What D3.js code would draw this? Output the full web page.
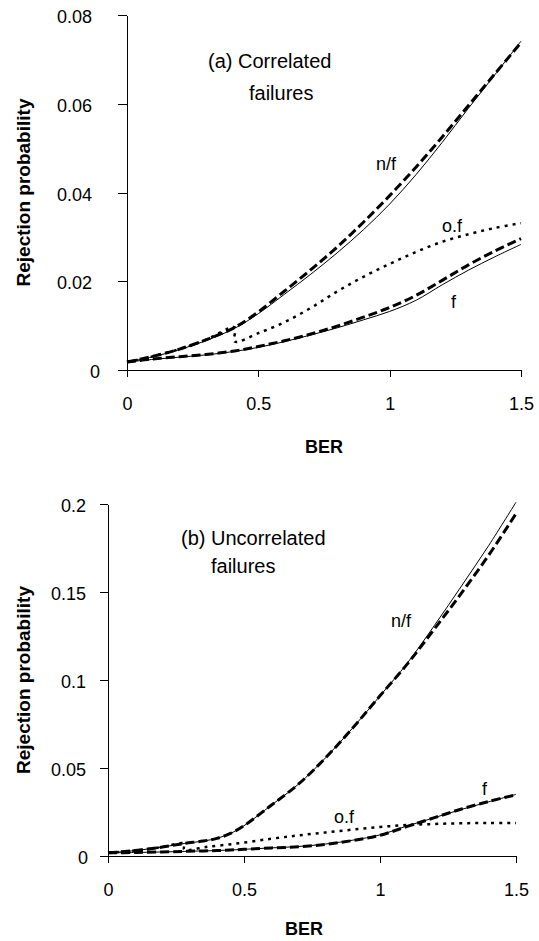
<!DOCTYPE html>
<html>
<head>
<meta charset="utf-8">
<script src="https://cdn.jsdelivr.net/npm/d3@7"></script>
<style>
  html, body { margin: 0; padding: 0; background: #fff; }
  svg { display: block; font-family: "Liberation Sans", Arial, sans-serif; }
  .axis path, .axis line { stroke: #000; stroke-width: 1; shape-rendering: crispEdges; }
  .axis text { font-size: 18px; fill: #000; }
  .ttl { font-size: 18px; font-weight: bold; }
  .ytl { font-size: 19px; font-weight: bold; }
  .note { font-size: 20px; }
  .tag { font-size: 18px; }
</style>
</head>
<body>
<svg id="chart" width="539" height="941"></svg>
<script>
// ── Data: (a) correlated failures ─────────────────────────────────────────────
const berA     = [0, 0.1, 0.2, 0.3, 0.41, 0.5, 0.6, 0.7, 0.8, 0.9, 1.0, 1.1, 1.2, 1.3, 1.4, 1.5];
const nfDashA  = [0.0018, 0.0031, 0.0047, 0.0068, 0.0096, 0.0131, 0.0178, 0.0226, 0.0277, 0.0333, 0.0393, 0.0457, 0.0525, 0.0596, 0.0667, 0.0738];
const nfSolidA = [0.0018, 0.0030, 0.0046, 0.0066, 0.0094, 0.0127, 0.0171, 0.0216, 0.0264, 0.0316, 0.0374, 0.0440, 0.0513, 0.0590, 0.0665, 0.0741];
const fDashA   = [0.0018, 0.0025, 0.0030, 0.0035, 0.0043, 0.0053, 0.0066, 0.0081, 0.0099, 0.0119, 0.0141, 0.0168, 0.0202, 0.0237, 0.0268, 0.0296];
const fSolidA  = [0.0018, 0.0024, 0.0029, 0.0034, 0.0042, 0.0051, 0.0064, 0.0079, 0.0095, 0.0113, 0.0132, 0.0157, 0.0192, 0.0225, 0.0255, 0.0283];
const ofBerA   = [0, 0.1, 0.2, 0.3, 0.41, 0.41, 0.5, 0.6, 0.7, 0.8, 0.9, 1.0, 1.1, 1.2, 1.3, 1.4, 1.5];
const ofA      = [0.0018, 0.0031, 0.0047, 0.0068, 0.0096, 0.0064, 0.0083, 0.0108, 0.0140, 0.0177, 0.0210, 0.0239, 0.0266, 0.0289, 0.0306, 0.0320, 0.0331];
const yTicksA  = [0, 0.02, 0.04, 0.06, 0.08];

// ── Data: (b) uncorrelated failures ───────────────────────────────────────────
const berB     = [0, 0.1, 0.2, 0.28, 0.35, 0.4, 0.45, 0.5, 0.6, 0.7, 0.8, 0.9, 1.0, 1.1, 1.2, 1.3, 1.4, 1.5];
const nfDashB  = [0.0018, 0.0031, 0.0051, 0.0071, 0.0085, 0.0100, 0.0128, 0.0172, 0.0288, 0.0408, 0.0558, 0.0728, 0.0910, 0.1090, 0.1290, 0.1495, 0.1710, 0.1945];
const nfSolidB = [0.0018, 0.0031, 0.0051, 0.0071, 0.0085, 0.0100, 0.0128, 0.0172, 0.0288, 0.0408, 0.0558, 0.0728, 0.0910, 0.1095, 0.1310, 0.1535, 0.1765, 0.2010];
const fDashB   = [0.0018, 0.0020, 0.0023, 0.0026, 0.0029, 0.0031, 0.0034, 0.0038, 0.0046, 0.0052, 0.0066, 0.0088, 0.0118, 0.0168, 0.0218, 0.0267, 0.0310, 0.0348];
const fSolidB  = [0.0018, 0.0020, 0.0023, 0.0026, 0.0029, 0.0031, 0.0034, 0.0038, 0.0046, 0.0054, 0.0068, 0.0090, 0.0120, 0.0171, 0.0218, 0.0265, 0.0308, 0.0350];
const ofBerB   = [0, 0.1, 0.2, 0.28, 0.28, 0.36, 0.48, 0.6, 0.7, 0.8, 0.9, 1.0, 1.1, 1.2, 1.3, 1.4, 1.5];
const ofB      = [0.0018, 0.0031, 0.0051, 0.0071, 0.0036, 0.0051, 0.0072, 0.0098, 0.0117, 0.0134, 0.0150, 0.0165, 0.0176, 0.0182, 0.0186, 0.0188, 0.0188];
const yTicksB  = [0, 0.05, 0.1, 0.15, 0.2];

const xTicks = [0, 0.5, 1, 1.5];

// ── Line styles ───────────────────────────────────────────────────────────────
const STYLE = {
  solid:  { w: 1,   dash: null },
  dashed: { w: 3,   dash: '9,4' },
  dotted: { w: 2.5, dash: '3,5' }
};

const svg = d3.select('#chart');

function drawPanel(p) {
  const x = d3.scaleLinear().domain([0, 1.5]).range([p.left, p.right]);
  const y = d3.scaleLinear().domain([0, p.yMax]).range([p.bottom, p.top]);
  const g = svg.append('g');

  // axes
  const ya = g.append('g').attr('class', 'axis')
    .attr('transform', `translate(${p.left},0)`)
    .call(d3.axisLeft(y).tickValues(p.yTicks).tickSize(p.yTick).tickSizeOuter(0)
      .tickPadding(p.yPad).tickFormat(d => String(d)));
  ya.selectAll('text').attr('dy', '0.42em')
    .filter(d => d === 0).attr('dx', p.zeroShift);

  g.append('g').attr('class', 'axis')
    .attr('transform', `translate(0,${p.bottom})`)
    .call(d3.axisBottom(x).tickValues(xTicks).tickSize(7).tickSizeOuter(0)
      .tickPadding(20).tickFormat(d => String(d)));

  // curves
  const line = d3.line().x(d => x(d[0])).y(d => y(d[1])).curve(d3.curveCatmullRom.alpha(0.5));
  p.series.forEach(s => {
    const st = STYLE[s.style];
    g.append('path')
      .datum(s.xs.map((v, i) => [v, s.ys[i]]))
      .attr('d', line)
      .attr('fill', 'none')
      .attr('stroke', '#000')
      .attr('stroke-width', st.w)
      .attr('stroke-dasharray', st.dash);
  });

  // titles
  g.append('text').attr('class', 'ytl')
    .attr('transform', `translate(${p.yTitleX},${(p.top + p.bottom) / 2}) rotate(-90)`)
    .attr('text-anchor', 'middle').text('Rejection probability');
  g.append('text').attr('class', 'ttl')
    .attr('x', p.berX).attr('y', p.berY).attr('text-anchor', 'middle').text('BER');

  p.notes.forEach(n => g.append('text').attr('class', 'note')
    .attr('x', n.x).attr('y', n.y).text(n.t));
  p.tags.forEach(n => g.append('text').attr('class', 'tag')
    .attr('x', n.x).attr('y', n.y).text(n.t));
}

drawPanel({
  left: 127, right: 521, top: 15, bottom: 370, yMax: 0.08,
  yTicks: yTicksA, yTick: 9, yPad: 26, zeroShift: 8,
  yTitleX: 30, berX: 324, berY: 453,
  series: [
    { xs: berA,   ys: nfSolidA, style: 'solid' },
    { xs: berA,   ys: fSolidA,  style: 'solid' },
    { xs: berA,   ys: nfDashA,  style: 'dashed' },
    { xs: berA,   ys: fDashA,   style: 'dashed' },
    { xs: ofBerA, ys: ofA,      style: 'dotted' }
  ],
  notes: [
    { x: 208, y: 68,  t: '(a) Correlated' },
    { x: 249, y: 100, t: 'failures' }
  ],
  tags: [
    { x: 376, y: 170, t: 'n/f' },
    { x: 442, y: 232, t: 'o.f' },
    { x: 451, y: 308, t: 'f' }
  ]
});

drawPanel({
  left: 108, right: 516, top: 504, bottom: 856, yMax: 0.2,
  yTicks: yTicksB, yTick: 8, yPad: 14, zeroShift: 2,
  yTitleX: 30, berX: 304, berY: 935,
  series: [
    { xs: berB,   ys: nfSolidB, style: 'solid' },
    { xs: berB,   ys: fSolidB,  style: 'solid' },
    { xs: berB,   ys: nfDashB,  style: 'dashed' },
    { xs: berB,   ys: fDashB,   style: 'dashed' },
    { xs: ofBerB, ys: ofB,      style: 'dotted' }
  ],
  notes: [
    { x: 181, y: 545, t: '(b) Uncorrelated' },
    { x: 211, y: 573, t: 'failures' }
  ],
  tags: [
    { x: 391, y: 627, t: 'n/f' },
    { x: 482, y: 795, t: 'f' },
    { x: 334, y: 823, t: 'o.f' }
  ]
});
</script>
</body>
</html>
